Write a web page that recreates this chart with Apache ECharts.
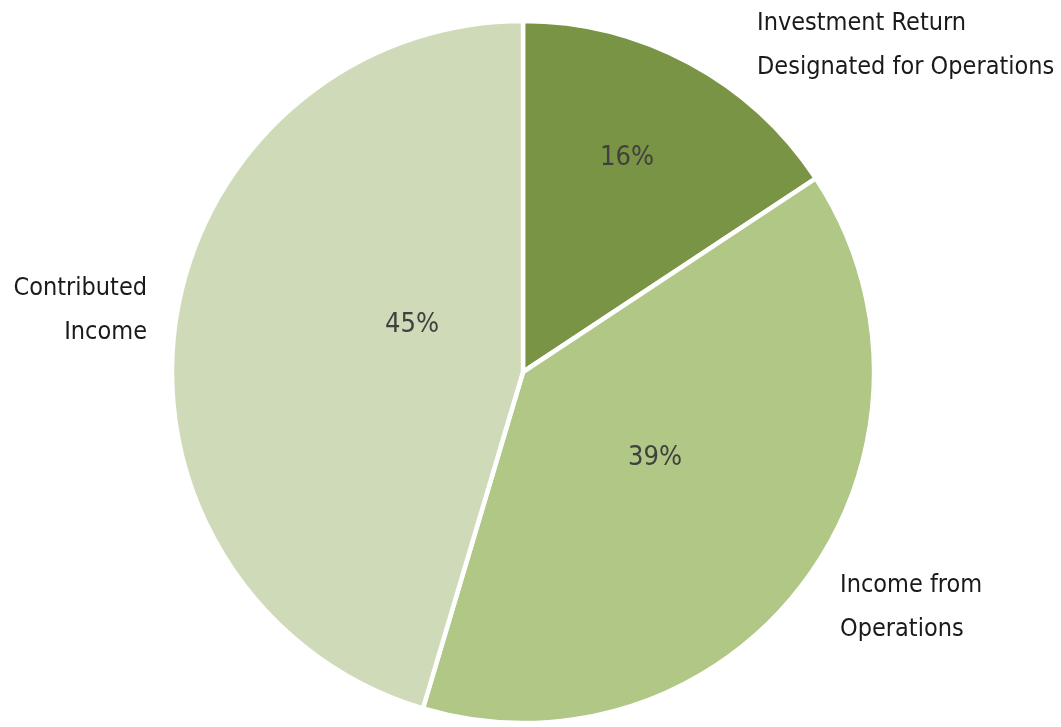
<!DOCTYPE html>
<html>
<head>
<meta charset="utf-8">
<script src="https://cdn.jsdelivr.net/npm/echarts@6/dist/echarts.min.js"></script>
<style>
  html, body { margin: 0; padding: 0; background: #fff; }
  #pie { width: 1061px; height: 727px; }
</style>
</head>
<body>
<div id="pie"></div>
<script>
var categories = ['Investment Return\nDesignated for Operations', 'Income from\nOperations', 'Contributed\nIncome'];
var shares = [15.7, 38.9, 45.4];
var colors = ['#7A9445', '#B0C785', '#CFDBB8'];

var font = "'Liberation Sans Narrow', 'DejaVu Sans Condensed', sans-serif";
var chart = echarts.init(document.getElementById('pie'));

var pieData = categories.map(function (c, i) {
  return { name: c, value: shares[i] };
});

// where the labels sit in the picture
var pctPos = [[627, 158], [655, 458], [412, 325]];
var namePos = [
  { x: 757, y: 45, align: 'left' },
  { x: 840, y: 607, align: 'left' },
  { x: 147, y: 310, align: 'right' }
];

var option = {
  animation: false,
  color: colors,
  series: [
    {
      type: 'pie',
      center: [523, 372],
      radius: 351,
      startAngle: 90,
      clockwise: true,
      data: pieData,
      itemStyle: { borderColor: '#fff', borderWidth: 4.5 },
      label: {
        position: 'inside',
        formatter: function (p) { return Math.round(p.value) + '%'; },
        color: '#404040',
        fontFamily: font,
        fontSize: 27,
        overflow: 'none'
      },
      labelLayout: function (p) {
        var xy = pctPos[p.dataIndex];
        return { x: xy[0], y: xy[1], align: 'center', verticalAlign: 'middle' };
      },
      emphasis: { disabled: true }
    },
    {
      type: 'pie',
      center: [523, 372],
      radius: 351,
      startAngle: 90,
      silent: true,
      data: pieData,
      itemStyle: { color: 'rgba(0,0,0,0)' },
      label: {
        position: 'outside',
        formatter: '{b}',
        color: '#1a1a1a',
        fontFamily: font,
        fontSize: 25,
        lineHeight: 44,
        overflow: 'none',
        width: 400
      },
      labelLine: { show: false },
      labelLayout: function (p) {
        var o = namePos[p.dataIndex];
        return { x: o.x, y: o.y, align: o.align, verticalAlign: 'middle' };
      },
      emphasis: { disabled: true }
    }
  ]
};

chart.setOption(option);
</script>
</body>
</html>
